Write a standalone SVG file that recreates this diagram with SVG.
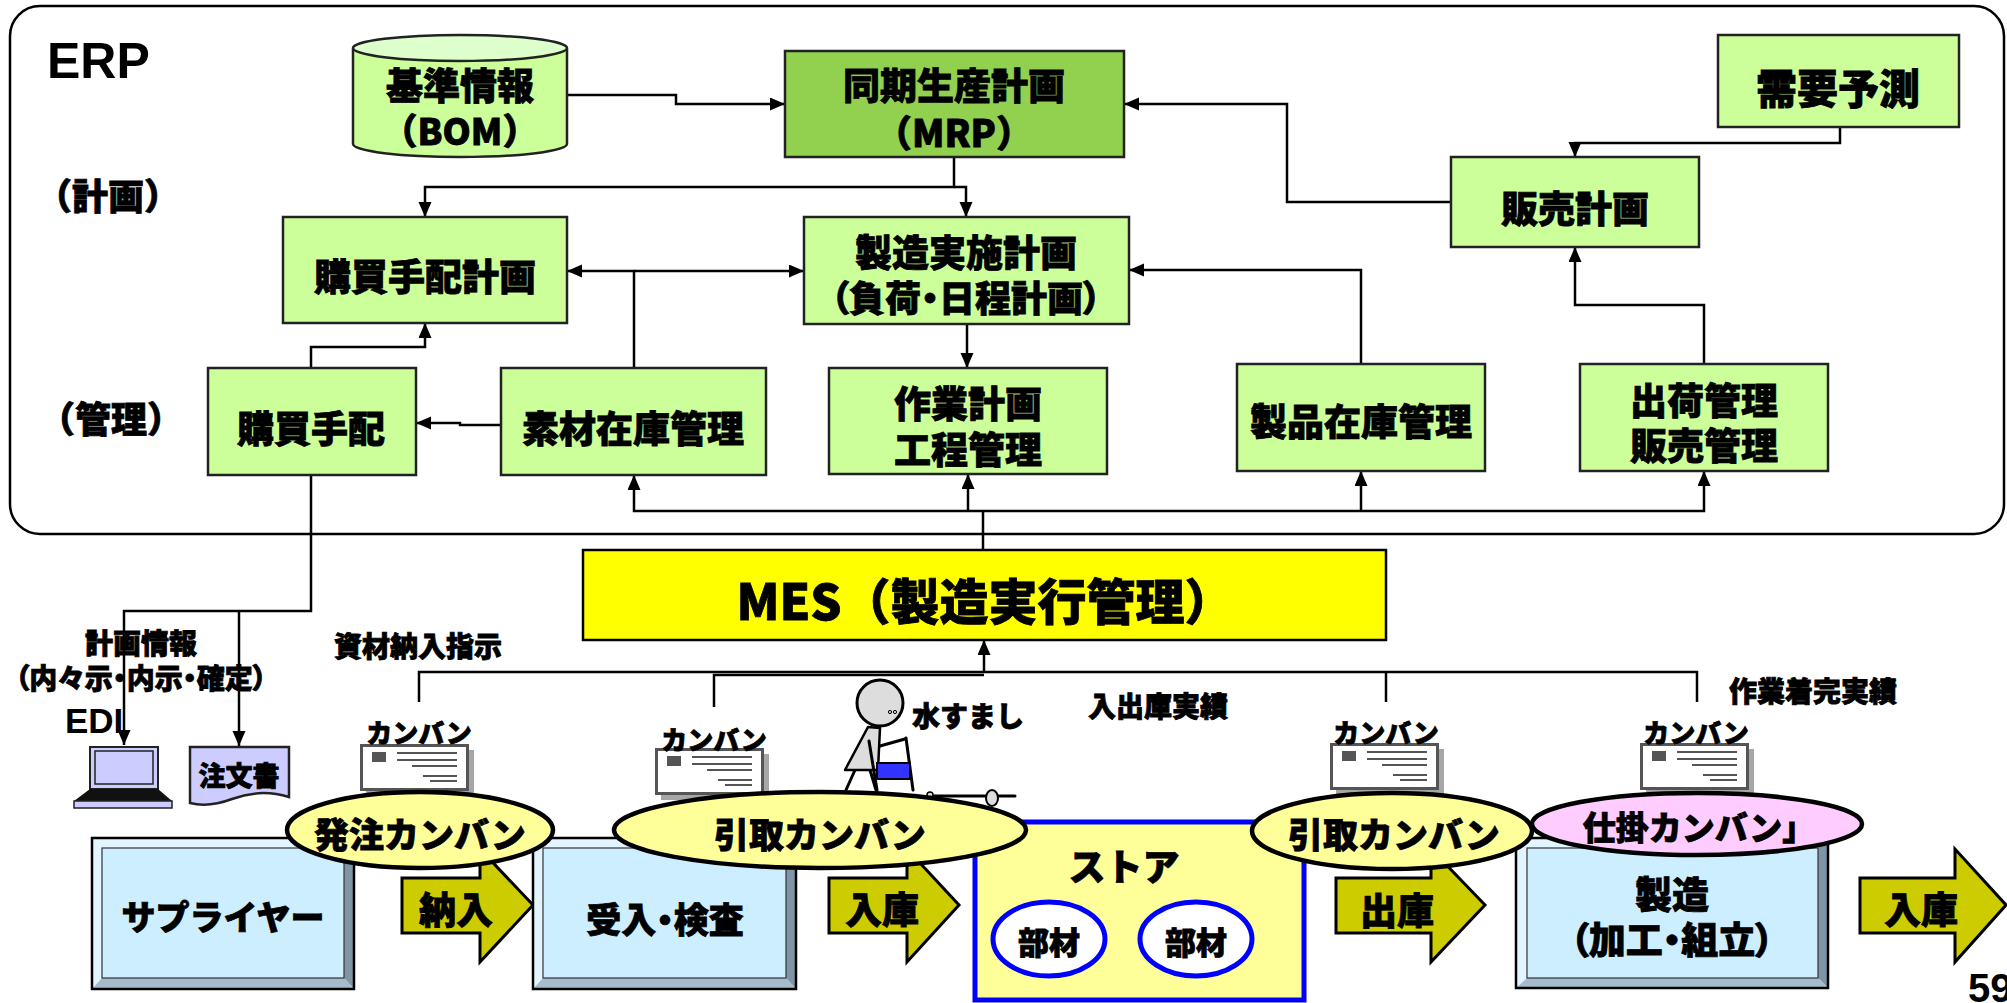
<svg xmlns="http://www.w3.org/2000/svg" width="2007" height="1003" viewBox="0 0 2007 1003">
  <style>
    .t { font-family: "Noto Sans CJK JP", "Noto Sans CJK SC", sans-serif; font-weight: 900; text-anchor: middle; dominant-baseline: central; fill: #000; stroke: #000; stroke-width: 0.8; }
    .p { font-feature-settings: "palt" 1; }
    .lat { font-family: "Liberation Sans", Arial, sans-serif; font-weight: 700; fill: #000; }
    .box { fill: #ccff99; stroke: #222; stroke-width: 2.5; }
    .ln { fill: none; stroke: #000; stroke-width: 2.5; }
    .arr { marker-end: url(#ah); }
    .blk { fill: #cccc00; stroke: #000; stroke-width: 3; stroke-linejoin: miter; }
    .kb { stroke: #000; stroke-width: 4.5; }
    .face { fill: #cceeff; stroke: #333; stroke-width: 1.2; }
    .bl { fill: #e2f4ff; }
    .bd { fill: #7f95a5; }
    .bb { fill: #a4bccb; }
    .frame { fill: none; stroke: #000; stroke-width: 2.5; }
    .fig { stroke: #000; stroke-width: 3; stroke-linecap: round; stroke-linejoin: round; }
  </style>
  <defs>
    <marker id="ah" markerUnits="userSpaceOnUse" markerWidth="16" markerHeight="14" refX="15" refY="6.5" orient="auto">
      <path d="M0,0 L15,6.5 L0,13 Z" fill="#000"/>
    </marker>
    <!-- kanban card icon -->
    <g id="card">
      <rect x="6" y="6" width="108" height="46" fill="#a6a6a6"/>
      <rect x="1.5" y="1.5" width="106" height="44" fill="#fff" stroke="#555" stroke-width="3"/>
      <rect x="12" y="8" width="14" height="10" fill="#555"/>
      <g stroke="#555" stroke-width="2">
        <line x1="37" y1="9" x2="97" y2="9"/>
        <line x1="37" y1="16" x2="97" y2="16"/>
        <line x1="52" y1="22" x2="97" y2="22"/>
        <line x1="63" y1="32" x2="97" y2="32"/>
        <line x1="70" y1="37" x2="97" y2="37"/>
      </g>
    </g>
  </defs>

  <rect width="2007" height="1003" fill="#fff"/>

  <!-- ERP frame -->
  <g id="erp">
    <rect x="10" y="6" width="1994" height="528" rx="30" fill="#fff" stroke="#000" stroke-width="2.5"/>
    <text class="lat" x="47" y="78" font-size="50">ERP</text>
    <text class="t" x="108" y="194" font-size="36">（計画）</text>
    <text class="t" x="111" y="417" font-size="36">（管理）</text>
  </g>

  <!-- connectors -->
  <g id="connectors">
    <path class="ln arr" d="M567,95 H676 V104 H785"/>
    <path class="ln arr" d="M954,157 V187 H425 V217"/>
    <path class="ln arr" d="M954,187 H966 V217"/>
    <path class="ln arr" d="M1451,202 H1287 V104 H1124"/>
    <path class="ln arr" d="M1840,127 V143 H1575 V157"/>
    <path class="ln arr" d="M1704,364 V305 H1575 V247"/>
    <path class="ln arr" d="M1361,364 V270 H1129"/>
    <path class="ln arr" d="M634,368 V271 H567"/>
    <path class="ln arr" d="M634,271 H804"/>
    <path class="ln arr" d="M311,368 V347 H425 V323"/>
    <path class="ln arr" d="M501,425 H460 V423 H416"/>
    <path class="ln arr" d="M967,324 V368"/>
    <path class="ln" d="M983,550 V511"/>
    <path class="ln arr" d="M983,511 H634 V475"/>
    <path class="ln arr" d="M983,511 H1704 V471"/>
    <path class="ln arr" d="M968,511 V474"/>
    <path class="ln arr" d="M1361,511 V471"/>
    <path class="ln arr" d="M311,475 V611 H124 V745"/>
    <path class="ln arr" d="M239,611 V746"/>
    <path class="ln" d="M419,702 V672 H1697 V702"/>
    <path class="ln" d="M714,707 V675 H984"/>
    <path class="ln" d="M1386,672 V702"/>
    <path class="ln arr" d="M984,672 V640"/>
  </g>

  <!-- ERP nodes -->
  <g id="bom">
    <path d="M353,48 V144 A107,13 0 0 0 567,144 V48" fill="#ccff99" stroke="#222" stroke-width="2.5"/>
    <ellipse cx="460" cy="48" rx="107" ry="13" fill="#ddffcc" stroke="#222" stroke-width="2.5"/>
    <text class="t" x="460" y="84" font-size="37">基準情報</text>
    <text class="t" x="460" y="129" font-size="36">（BOM）</text>
  </g>
  <g id="mrp">
    <rect x="785" y="51" width="339" height="106" fill="#92d050" stroke="#222" stroke-width="2.5"/>
    <text class="t" x="954" y="84" font-size="37">同期生産計画</text>
    <text class="t" x="954" y="131" font-size="37">（MRP）</text>
  </g>
  <g id="forecast">
    <rect class="box" x="1718" y="35" width="241" height="92"/>
    <text class="t" x="1838" y="86" font-size="41">需要予測</text>
  </g>
  <g id="sales-plan">
    <rect class="box" x="1451" y="157" width="248" height="90"/>
    <text class="t" x="1575" y="207" font-size="37">販売計画</text>
  </g>
  <g id="purchase-plan">
    <rect class="box" x="283" y="217" width="284" height="106"/>
    <text class="t" x="425" y="275" font-size="37">購買手配計画</text>
  </g>
  <g id="mfg-plan">
    <rect class="box" x="804" y="217" width="325" height="107"/>
    <text class="t" x="966" y="251" font-size="37">製造実施計画</text>
    <text class="t p" x="966" y="296" font-size="36">（負荷・日程計画）</text>
  </g>
  <g id="purchase">
    <rect class="box" x="208" y="368" width="208" height="107"/>
    <text class="t" x="311" y="427" font-size="37">購買手配</text>
  </g>
  <g id="material-stock">
    <rect class="box" x="501" y="368" width="265" height="107"/>
    <text class="t" x="633" y="427" font-size="37">素材在庫管理</text>
  </g>
  <g id="work-plan">
    <rect class="box" x="829" y="368" width="278" height="106"/>
    <text class="t" x="968" y="402" font-size="37">作業計画</text>
    <text class="t" x="968" y="448" font-size="37">工程管理</text>
  </g>
  <g id="product-stock">
    <rect class="box" x="1237" y="364" width="248" height="107"/>
    <text class="t" x="1361" y="420" font-size="37">製品在庫管理</text>
  </g>
  <g id="shipping">
    <rect class="box" x="1580" y="364" width="248" height="107"/>
    <text class="t" x="1704" y="399" font-size="37">出荷管理</text>
    <text class="t" x="1704" y="444" font-size="37">販売管理</text>
  </g>

  <!-- MES -->
  <g id="mes">
    <rect x="583" y="550" width="803" height="90" fill="#ffff00" stroke="#000" stroke-width="2.5"/>
    <text class="t" x="985" y="598" font-size="49">MES（製造実行管理）</text>
  </g>

  <!-- labels -->
  <g id="labels">
    <text class="t" x="141" y="642" font-size="28">計画情報</text>
    <text class="t p" x="141" y="677" font-size="28">（内々示・内示・確定）</text>
    <text class="lat" x="65" y="733" font-size="35">EDI</text>
    <text class="t" x="418" y="645" font-size="28">資材納入指示</text>
    <text class="t" x="968" y="715" font-size="28">水すまし</text>
    <text class="t" x="1158" y="705" font-size="28">入出庫実績</text>
    <text class="t" x="1813" y="690" font-size="28">作業着完実績</text>
    <text class="lat" x="1968" y="1002" font-size="40">59</text>
  </g>

  <!-- EDI terminal -->
  <g id="edi">
    <rect x="90" y="747" width="68" height="42" fill="#ccccff" stroke="#222" stroke-width="2"/>
    <rect x="95" y="751" width="58" height="33" fill="#ccccff" stroke="#222" stroke-width="1.5"/>
    <polygon points="90,789 158,789 172,801 74,801" fill="#111"/>
    <rect x="74" y="801" width="98" height="7" fill="#ccccff" stroke="#222" stroke-width="1.5"/>
  </g>
  <g id="order-doc">
    <path d="M190,747 H289 V797 C266,790 248,793 232,799 C216,805 202,806 190,803 Z" fill="#ccccff" stroke="#222" stroke-width="2.5"/>
    <text class="t" x="239" y="774" font-size="27">注文書</text>
  </g>

  <!-- kanban cards -->
  <g id="cards">
    <use href="#card" x="360" y="744"/>
    <text class="t" x="419" y="731" font-size="26">カンバン</text>
    <use href="#card" x="655" y="748"/>
    <text class="t" x="714" y="738" font-size="26">カンバン</text>
    <use href="#card" x="1330" y="743"/>
    <text class="t" x="1386" y="731" font-size="26">カンバン</text>
    <use href="#card" x="1640" y="743"/>
    <text class="t" x="1696" y="731" font-size="26">カンバン</text>
  </g>

  <!-- water strider carrier -->
  <g id="mizusumashi">
    <line class="fig" x1="855" y1="770" x2="846" y2="790"/>
    <line class="fig" x1="870" y1="770" x2="876" y2="790"/>
    <polygon points="868,727 880,728 878,770 845,770" fill="#ddd" stroke="#000" stroke-width="2.5" stroke-linejoin="round"/>
    <line class="fig" x1="869" y1="741" x2="877" y2="790"/>
    <line class="fig" x1="906" y1="738" x2="913" y2="790"/>
    <line class="fig" x1="880" y1="746" x2="905" y2="739"/>
    <rect x="877" y="763" width="33" height="16" fill="#3333ff" stroke="#000" stroke-width="2"/>
    <circle cx="880" cy="703" r="23" fill="#ddd" stroke="#000" stroke-width="3"/>
    <circle cx="890" cy="712" r="1.6" fill="none" stroke="#000" stroke-width="1"/>
    <circle cx="895" cy="712" r="1.6" fill="none" stroke="#000" stroke-width="1"/>
    <line class="fig" x1="930" y1="796" x2="1015" y2="796"/>
    <circle cx="930" cy="795" r="3" fill="#ddd" stroke="#000" stroke-width="1.5"/>
    <ellipse cx="992" cy="798" rx="6" ry="8" fill="#ddd" stroke="#000" stroke-width="2"/>
  </g>

  <!-- flow arrows -->
  <g id="flow-arrows">
    <polygon class="blk" points="402,878 480,878 480,849 533,905 480,962 480,933 402,933"/>
    <text class="t" x="456" y="908" font-size="37">納入</text>
    <polygon class="blk" points="829,878 907,878 907,849 959,905 907,962 907,933 829,933"/>
    <text class="t" x="882" y="908" font-size="37">入庫</text>
    <polygon class="blk" points="1336,878 1431,878 1431,849 1485,905 1431,962 1431,933 1336,933"/>
    <text class="t" x="1397" y="909" font-size="37">出庫</text>
    <polygon class="blk" points="1860,878 1955,878 1955,849 2006,905 1955,962 1955,933 1860,933"/>
    <text class="t" x="1921" y="908" font-size="37">入庫</text>
  </g>

  <!-- shop-floor stations -->
  <g id="supplier">
    <polygon class="bl" points="92,838 354,838 344,848 102,848"/>
    <polygon class="bl" points="92,838 102,848 102,978 92,989"/>
    <polygon class="bd" points="354,838 354,989 344,978 344,848"/>
    <polygon class="bb" points="92,989 354,989 344,978 102,978"/>
    <rect class="face" x="102" y="848" width="242" height="130"/>
    <rect class="frame" x="92" y="838" width="262" height="151"/>
    <text class="t" x="223" y="915" font-size="34">サプライヤー</text>
  </g>
  <g id="receiving">
    <polygon class="bl" points="533,838 796,838 786,848 543,848"/>
    <polygon class="bl" points="533,838 543,848 543,978 533,989"/>
    <polygon class="bd" points="796,838 796,989 786,978 786,848"/>
    <polygon class="bb" points="533,989 796,989 786,978 543,978"/>
    <rect class="face" x="543" y="848" width="243" height="130"/>
    <rect class="frame" x="533" y="838" width="263" height="151"/>
    <text class="t p" x="665" y="917" font-size="35">受入・検査</text>
  </g>
  <g id="store">
    <rect x="975" y="822" width="329" height="178" fill="#ffff99" stroke="#0000ff" stroke-width="5"/>
    <text class="t" x="1124" y="865" font-size="37">ストア</text>
    <ellipse cx="1049" cy="939" rx="56" ry="37" fill="#fff" stroke="#0000ff" stroke-width="5"/>
    <text class="t" x="1049" y="940" font-size="31">部材</text>
    <ellipse cx="1196" cy="939" rx="56" ry="37" fill="#fff" stroke="#0000ff" stroke-width="5"/>
    <text class="t" x="1196" y="940" font-size="31">部材</text>
  </g>
  <g id="manufacturing">
    <polygon class="bl" points="1516,838 1828,838 1818,848 1527,848"/>
    <polygon class="bl" points="1516,838 1527,848 1527,978 1516,988"/>
    <polygon class="bd" points="1828,838 1828,988 1818,978 1818,848"/>
    <polygon class="bb" points="1516,988 1828,988 1818,978 1527,978"/>
    <rect class="face" x="1527" y="848" width="291" height="130"/>
    <rect class="frame" x="1516" y="838" width="312" height="150"/>
    <text class="t" x="1672" y="893" font-size="37">製造</text>
    <text class="t p" x="1672" y="938" font-size="37">（加工・組立）</text>
  </g>

  <!-- kanban tags -->
  <g id="order-kanban">
    <ellipse class="kb" cx="420" cy="830" rx="133" ry="38" fill="#ffff99"/>
    <text class="t" x="420" y="832" font-size="35">発注カンバン</text>
  </g>
  <g id="pull-kanban-1">
    <ellipse class="kb" cx="820" cy="830" rx="206" ry="38" fill="#ffff99"/>
    <text class="t" x="820" y="832" font-size="35">引取カンバン</text>
  </g>
  <g id="wip-kanban">
    <ellipse class="kb" cx="1697" cy="824" rx="165" ry="31" fill="#ffccff"/>
    <text class="t" x="1699" y="826" font-size="33">仕掛カンバン」</text>
  </g>
  <g id="pull-kanban-2">
    <ellipse class="kb" cx="1392" cy="831" rx="140" ry="38" fill="#ffff99"/>
    <text class="t" x="1394" y="832" font-size="35">引取カンバン</text>
  </g>
</svg>
